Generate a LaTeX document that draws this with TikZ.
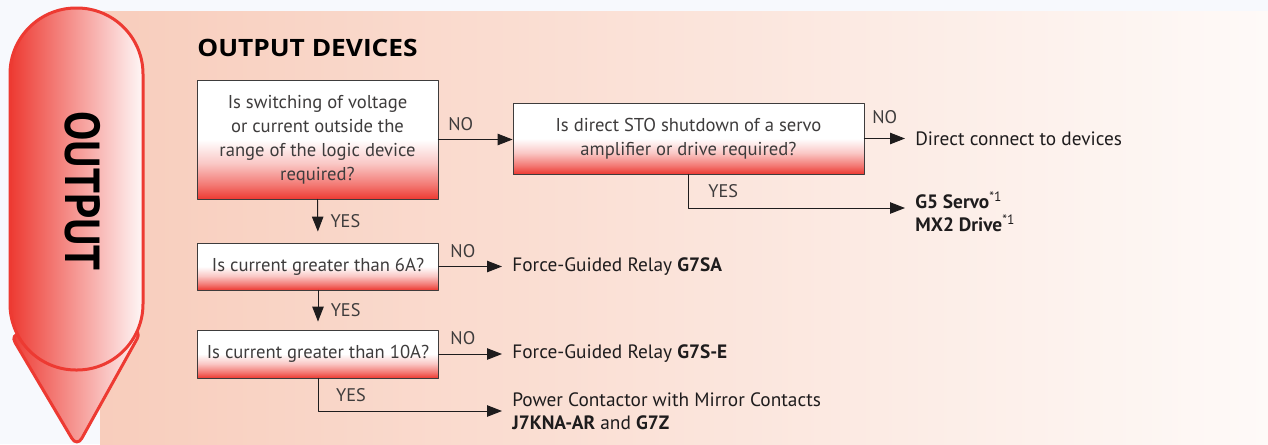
\documentclass[tikz,border=0pt]{standalone}
\usepackage{fontspec}
\usepackage{graphicx}
\setmainfont{PT Sans}
\newfontfamily\headfont{Open Sans}
\usetikzlibrary{arrows.meta,positioning}
\definecolor{outred}{RGB}{237,58,50}
\definecolor{peach}{RGB}{248,205,188}
\definecolor{paleend}{RGB}{254,250,248}
\definecolor{skywhite}{RGB}{247,249,253}
\definecolor{qgray}{RGB}{62,60,60}
\definecolor{inkblack}{RGB}{30,28,29}
\pgfdeclareverticalshading{qshade}{100bp}{color(0bp)=(outred); color(25bp)=(outred); color(31bp)=(outred!68!white); color(40bp)=(outred!28!white); color(50bp)=(white); color(100bp)=(white)}

\begin{document}
\begin{tikzpicture}[x=0.02cm,y=-0.02cm,line cap=round,line join=round,
  question/.style={draw=qgray,line width=0.5pt,shade,shading=qshade,minimum width=4.82cm,
    align=center,text=qgray,inner sep=0pt,font=\fontsize{10.6}{13.6}\selectfont},
  result/.style={anchor=west,align=left,inner xsep=0.2cm,inner ysep=0pt,text=inkblack,
    font=\fontsize{11}{13.2}\selectfont},
  flow/.style={draw=inkblack,line width=0.55pt,-{Triangle[length=8.5pt,width=6.5pt]}},
  nolabel/.style={inner sep=0pt,text=qgray,font=\fontsize{10.4}{12}\selectfont},
  yeslabel/.style={inner sep=0pt,text=qgray,font=\fontsize{10.4}{12}\selectfont}]
  \useasboundingbox (0,0) rectangle (1268,444);
  \fill[skywhite] (0,0) rectangle (1268,444);
  \fill[left color=peach,right color=paleend] (100,11) rectangle (1268,444);

  \draw[outred,line width=0.06cm,rounded corners=0.2cm,left color=outred,right color=outred!4!white]
    (10,334) -- (142,330) -- (77,447) -- cycle;
  \draw[outred,line width=0.06cm,rounded corners=1.32cm,left color=outred,right color=outred!4!white]
    (10,8) rectangle (143,370);
  \node[rotate=-90,inner sep=0pt,text=black,font=\fontsize{28}{28}\selectfont\bfseries] (tag) at (83,191)
    {\scalebox{0.89}[1]{OUTPUT}};

  \node[anchor=west,inner sep=0pt,text=black,font=\fontsize{13.6}{15}\headfont\bfseries] (title) at (197,48)
    {\scalebox{1.1}[1]{OUTPUT DEVICES}};

  \node[question,minimum height=2.38cm] (volt) at (317.5,139.5)
    {Is switching of voltage\\or current outside the\\range of the logic device\\required?};
  \node[question,minimum width=7.02cm,minimum height=1.42cm] (sto) at (688.5,138.5)
    {Is direct STO shutdown of a servo\\amplifier or drive required?};
  \node[question,minimum height=0.94cm] (six) at (318,266.5) {Is current greater than 6A?};
  \node[question,minimum height=0.96cm] (ten) at (318,354) {Is current greater than 10A?};

  \node[result] (direct) at (905,138.5) {Direct connect to devices};
  \node[result] (servo) at (905,212)
    {\textbf{G5 Servo}\textsuperscript{*1}\\\textbf{MX2 Drive}\textsuperscript{*1}};
  \node[result] (g7sa) at (502,266.5) {Force-Guided Relay \textbf{G7SA}};
  \node[result] (g7se) at (502,354) {Force-Guided Relay \textbf{G7S-E}};
  \node[result] (j7kna) at (502,411) {Power Contactor with Mirror Contacts\\\textbf{J7KNA-AR} and \textbf{G7Z}};

  \draw[flow] (volt.east) -- node[nolabel,above=5pt,pos=0.3]{NO} (volt.east -| sto.west);
  \draw[flow,shorten >=0.22cm] (volt.south) -- node[yeslabel,right=7pt]{YES} (six.north);
  \draw[flow] (sto.east) -- node[nolabel,above=8pt,pos=0.5]{NO} (direct.west);
  \draw[flow] (sto.south) |- node[yeslabel,right=11pt,pos=0.25]{YES} ([yshift=0.08cm]servo.west);
  \draw[flow] (six.east) -- node[nolabel,above=5pt,pos=0.38]{NO} (g7sa.west);
  \draw[flow,shorten >=0.16cm] (six.south) -- node[yeslabel,right=7pt]{YES} (ten.north);
  \draw[flow] (ten.east) -- node[nolabel,above=5pt,pos=0.38]{NO} (g7se.west);
  \draw[flow] (ten.south) |- node[yeslabel,right=10pt,pos=0.25]{YES} (j7kna.west);
\end{tikzpicture}
\end{document}
